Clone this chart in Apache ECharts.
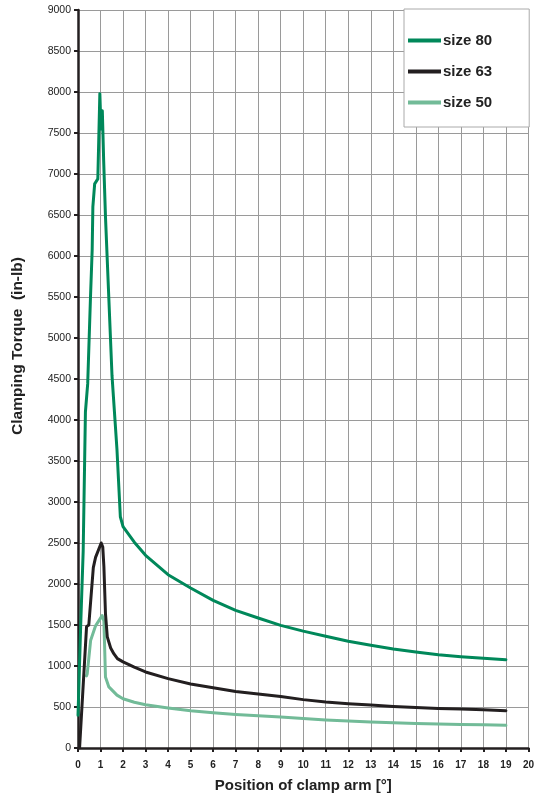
<!DOCTYPE html>
<html>
<head>
<meta charset="utf-8">
<script src="https://cdn.jsdelivr.net/npm/echarts@6/dist/echarts.min.js"></script>
<style>
html,body{margin:0;padding:0;background:#fff;}
#chart{width:537px;height:798px;}
</style>
</head>
<body>
<div id="chart"></div>
<script>
// Position of clamp arm [°] / Clamping Torque (in-lb)
const size80X = [0, 0.12, 0.23, 0.33, 0.43, 0.55, 0.63, 0.66, 0.74, 0.88, 0.97, 1.02, 1.08, 1.14, 1.22, 1.51, 1.73, 1.88, 2, 2.5, 3, 4, 5, 6, 7, 8, 9, 10, 11, 12, 13, 14, 15, 16, 17, 18, 19];
const size80Y = [400, 1500, 2400, 4100, 4440, 5460, 6080, 6600, 6880, 6940, 7980, 7550, 7770, 7160, 6480, 4540, 3640, 2820, 2700, 2510, 2350, 2113, 1951, 1800, 1678, 1585, 1495, 1425, 1362, 1301, 1252, 1207, 1171, 1138, 1113, 1094, 1077];

const size63X = [0.07, 0.38, 0.48, 0.68, 0.78, 1.03, 1.1, 1.15, 1.22, 1.3, 1.45, 1.59, 1.75, 2, 2.5, 3, 4, 5, 6, 7, 8, 9, 10, 11, 12, 13, 14, 15, 16, 17, 18, 19];
const size63Y = [0, 1480, 1500, 2200, 2325, 2500, 2450, 2210, 1640, 1355, 1220, 1150, 1090, 1050, 985, 927, 846, 781, 735, 690, 659, 629, 590, 561, 540, 524, 507, 495, 483, 476, 467, 455];

const size50X = [0.38, 0.41, 0.56, 0.78, 1.07, 1.15, 1.22, 1.37, 1.73, 2, 2.5, 3, 4, 5, 6, 7, 8, 9, 10, 11, 12, 13, 14, 15, 16, 17, 18, 19];
const size50Y = [880, 906, 1310, 1490, 1615, 1550, 865, 745, 645, 601, 558, 527, 488, 455, 430, 410, 394, 378, 359, 341, 329, 317, 309, 300, 293, 288, 284, 276];

const seriesNames = ['size 80', 'size 63', 'size 50'];
const seriesColors = ['#00885a', '#231f20', '#72bb98'];
const xTitle = 'Position of clamp arm [°]';
const yTitle = 'Clamping Torque  (in-lb)';

function pairs(xs, ys) { return xs.map((x, i) => [x, ys[i]]); }
const seriesData = [pairs(size80X, size80Y), pairs(size63X, size63Y), pairs(size50X, size50Y)];

const chart = echarts.init(document.getElementById('chart'), null, {renderer: 'canvas'});
const font = '"Liberation Sans", Arial, Helvetica, sans-serif';

chart.setOption({
  animation: false,
  backgroundColor: '#fff',
  textStyle: {fontFamily: font},
  grid: {left: 78, top: 10, width: 452, height: 738, containLabel: false},
  graphic: [{
    type: 'text',
    x: 18, y: 346,
    rotation: Math.PI / 2,
    style: {
      text: yTitle,
      fontFamily: font, fontSize: 15.5, fontWeight: 'bold', fill: '#222',
      align: 'center', verticalAlign: 'middle'
    }
  }],
  legend: {
    left: 404, top: 9,
    orient: 'vertical',
    backgroundColor: '#fff',
    borderColor: '#aaa',
    borderWidth: 1,
    padding: [24, 37, 17, 4],
    itemGap: 16,
    itemWidth: 33,
    itemHeight: 4,
    icon: 'rect',
    textStyle: {fontFamily: font, fontSize: 15, fontWeight: 'bold', color: '#222', padding: [0, 0, 0, -3]},
    data: seriesNames
  },
  xAxis: {
    type: 'value', min: 0, max: 20, interval: 1,
    name: xTitle,
    nameLocation: 'middle', nameGap: 30,
    nameTextStyle: {fontFamily: font, fontSize: 15, fontWeight: 'bold', color: '#222'},
    axisLine: {show: true, onZero: false, lineStyle: {color: '#231f20', width: 2.5}},
    axisTick: {show: true, length: 4, lineStyle: {color: '#231f20', width: 2}},
    axisLabel: {fontFamily: font, fontSize: 10, fontWeight: 'bold', color: '#222', margin: 12},
    splitLine: {show: true, lineStyle: {color: '#9a9a9a', width: 1}}
  },
  yAxis: {
    type: 'value', min: 0, max: 9000, interval: 500,
    axisLine: {show: true, onZero: false, lineStyle: {color: '#231f20', width: 2.5}},
    axisTick: {show: true, length: 4, lineStyle: {color: '#231f20', width: 2}},
    axisLabel: {fontFamily: font, fontSize: 10.5, color: '#222', margin: 7, formatter: v => String(v)},
    splitLine: {show: true, lineStyle: {color: '#9a9a9a', width: 1}}
  },
  series: seriesNames.map((name, i) => ({
    name: name,
    type: 'line',
    data: seriesData[i],
    showSymbol: false,
    symbol: 'none',
    smooth: false,
    color: seriesColors[i],
    lineStyle: {color: seriesColors[i], width: 3, join: 'round', cap: 'round'},
    z: 3 - i
  }))
});
</script>
</body>
</html>
